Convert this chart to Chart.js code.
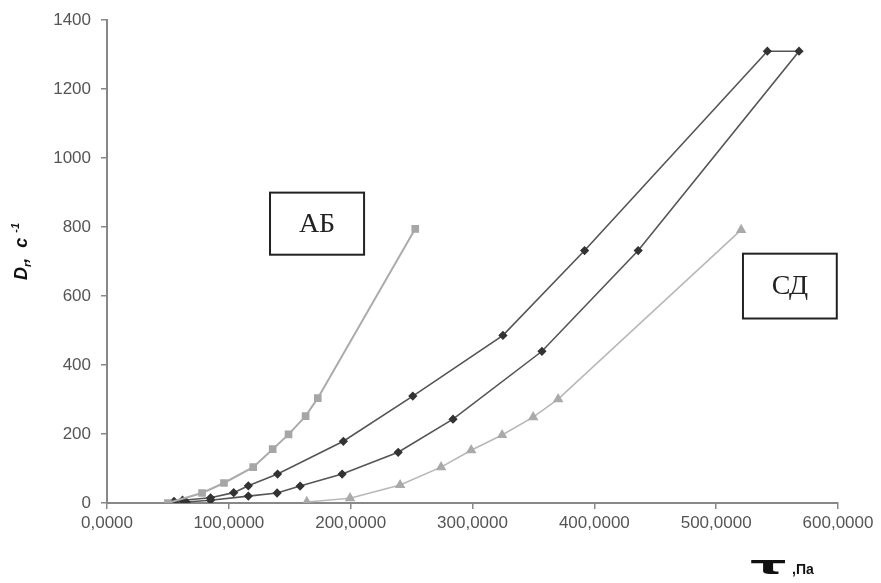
<!DOCTYPE html>
<html lang="ru">
  <head>
    <meta charset="UTF-8" />
    <title>D_r от tau</title>
    <style>
      body { margin: 0; background: #fff; }
      #chart { display: block; }
    </style>
  </head>
  <body>
    <canvas id="chart" width="881" height="583"></canvas>

    <script src="https://cdn.jsdelivr.net/npm/chart.js"></script>
    <script>
      // АБ (серые квадраты)
      const abX = [50, 78, 96, 120, 136, 149, 163, 173, 253];
      const abY = [0, 29, 58, 104, 156, 199, 252, 304, 795];

      // петля (тёмные ромбы): подъём, затем спуск
      const loopX = [55, 62, 85, 104, 116, 140, 194, 251, 325, 392, 542,
                     568, 436, 357, 284, 239, 193, 158.5, 139.6, 116, 85, 65, 55];
      const loopY = [5, 8, 15, 30, 50, 84, 179, 310, 486, 732, 1310,
                     1310, 732, 440, 243, 147, 84, 49, 29, 20, 8, 3, 2];

      // СД (серые треугольники)
      const sdX = [164, 199.5, 240.6, 274.2, 298.9, 324.3, 349.8, 370.3, 520.5];
      const sdY = [3, 14, 52, 104, 153, 197, 249, 301, 792];

      const xMax = 600, xStep = 100;
      const yMax = 1400, yStep = 200;

      // подписи-рамки в координатах данных
      const labelBoxes = [
        { text: "АБ", x0: 133.8, x1: 211, y0: 900, y1: 720 },
        { text: "СД", x0: 522, x1: 599, y0: 723, y1: 535 },
      ];

      const toPts = (xs, ys) => xs.map((x, i) => ({ x: x, y: ys[i] }));

      const extras = {
        id: "extras",
        afterDraw(chart) {
          const ctx = chart.ctx;
          const xs = chart.scales.x, ys = chart.scales.y;
          ctx.save();

          // рамки
          labelBoxes.forEach((b) => {
            const l = xs.getPixelForValue(b.x0), r = xs.getPixelForValue(b.x1);
            const t = ys.getPixelForValue(b.y0), btm = ys.getPixelForValue(b.y1);
            ctx.strokeStyle = "#222";
            ctx.lineWidth = 2;
            ctx.strokeRect(l, t, r - l, btm - t);
            ctx.fillStyle = "#222";
            ctx.font = "28px 'Liberation Serif'";
            ctx.textAlign = "center";
            ctx.textBaseline = "middle";
            ctx.fillText(b.text, (l + r) / 2, (t + btm) / 2 + 1);
          });

          // подпись оси Y: D_r, c^-1
          ctx.translate(27, 250);
          ctx.rotate(-Math.PI / 2);
          ctx.fillStyle = "#111";
          ctx.textAlign = "left";
          ctx.textBaseline = "alphabetic";
          let px = -30;
          const big = "italic bold 18px 'Liberation Sans'";
          const small = "italic bold 11px 'Liberation Sans'";
          ctx.font = big; ctx.fillText("D", px, 0); px += ctx.measureText("D").width;
          ctx.font = small; ctx.fillText("r", px, 4); px += ctx.measureText("r").width;
          ctx.font = big; ctx.fillText(",  c ", px, 0); px += ctx.measureText(",  c ").width;
          ctx.font = small; ctx.fillText("-1", px, -8);
          ctx.setTransform(1, 0, 0, 1, 0, 0);

          // подпись оси X: tau ,Па
          ctx.fillStyle = "#111";
          ctx.save();
          ctx.translate(750, 574);
          ctx.scale(2.6, 1.1);
          ctx.font = "bold 22px 'DejaVu Sans'";
          ctx.textAlign = "left";
          ctx.fillText("τ", 0, 0);
          ctx.restore();
          ctx.font = "bold 14px 'Liberation Sans'";
          ctx.textAlign = "left";
          ctx.fillText(",Па", 792, 574);

          ctx.restore();
        },
      };

      new Chart(document.getElementById("chart"), {
        type: "scatter",
        data: {
          datasets: [
            {
              label: "АБ",
              data: toPts(abX, abY),
              showLine: true,
              borderColor: "#ababab",
              borderWidth: 2,
              backgroundColor: "#a6a6a6",
              pointBackgroundColor: "#a6a6a6",
              pointBorderColor: "#a6a6a6",
              pointStyle: "rect",
              pointRadius: 4,
            },
            {
              label: "петля",
              data: toPts(loopX, loopY),
              showLine: true,
              borderColor: "#555",
              borderWidth: 1.6,
              pointBackgroundColor: "#333",
              pointBorderColor: "#333",
              pointStyle: "rectRot",
              pointRadius: 3.5,
            },
            {
              label: "СД",
              data: toPts(sdX, sdY),
              showLine: true,
              borderColor: "#b8b8b8",
              borderWidth: 1.6,
              pointBackgroundColor: "#aaa",
              pointBorderColor: "#aaa",
              pointStyle: "triangle",
              pointRadius: 4.5,
            },
          ],
        },
        options: {
          responsive: false,
          animation: false,
          layout: { padding: { top: 18, right: 43, left: 0, bottom: 0 } },
          plugins: {
            legend: { display: false },
            tooltip: { enabled: false },
          },
          scales: {
            x: {
              type: "linear",
              min: 0,
              max: xMax,
              ticks: {
                stepSize: xStep,
                color: "#555",
                font: { family: "'Liberation Sans'", size: 17 },
                padding: 4,
                maxRotation: 0,
                callback: (v) => v.toFixed(4).replace(".", ","),
              },
              grid: { drawOnChartArea: false, drawTicks: true, tickLength: 6, color: "#888", lineWidth: 1.5 },
              border: { display: true, color: "#888", width: 2 },
              afterFit: (s) => { s.height = 80; },
            },
            y: {
              min: 0,
              max: yMax,
              ticks: {
                stepSize: yStep,
                color: "#555",
                font: { family: "'Liberation Sans'", size: 17 },
                padding: 10,
                callback: (v) => String(v),
              },
              grid: { drawOnChartArea: false, drawTicks: true, tickLength: 6, color: "#888", lineWidth: 1.5 },
              border: { display: true, color: "#888", width: 2 },
              afterFit: (s) => { s.width = 107; },
            },
          },
        },
        plugins: [extras],
      });
    </script>
  </body>
</html>
